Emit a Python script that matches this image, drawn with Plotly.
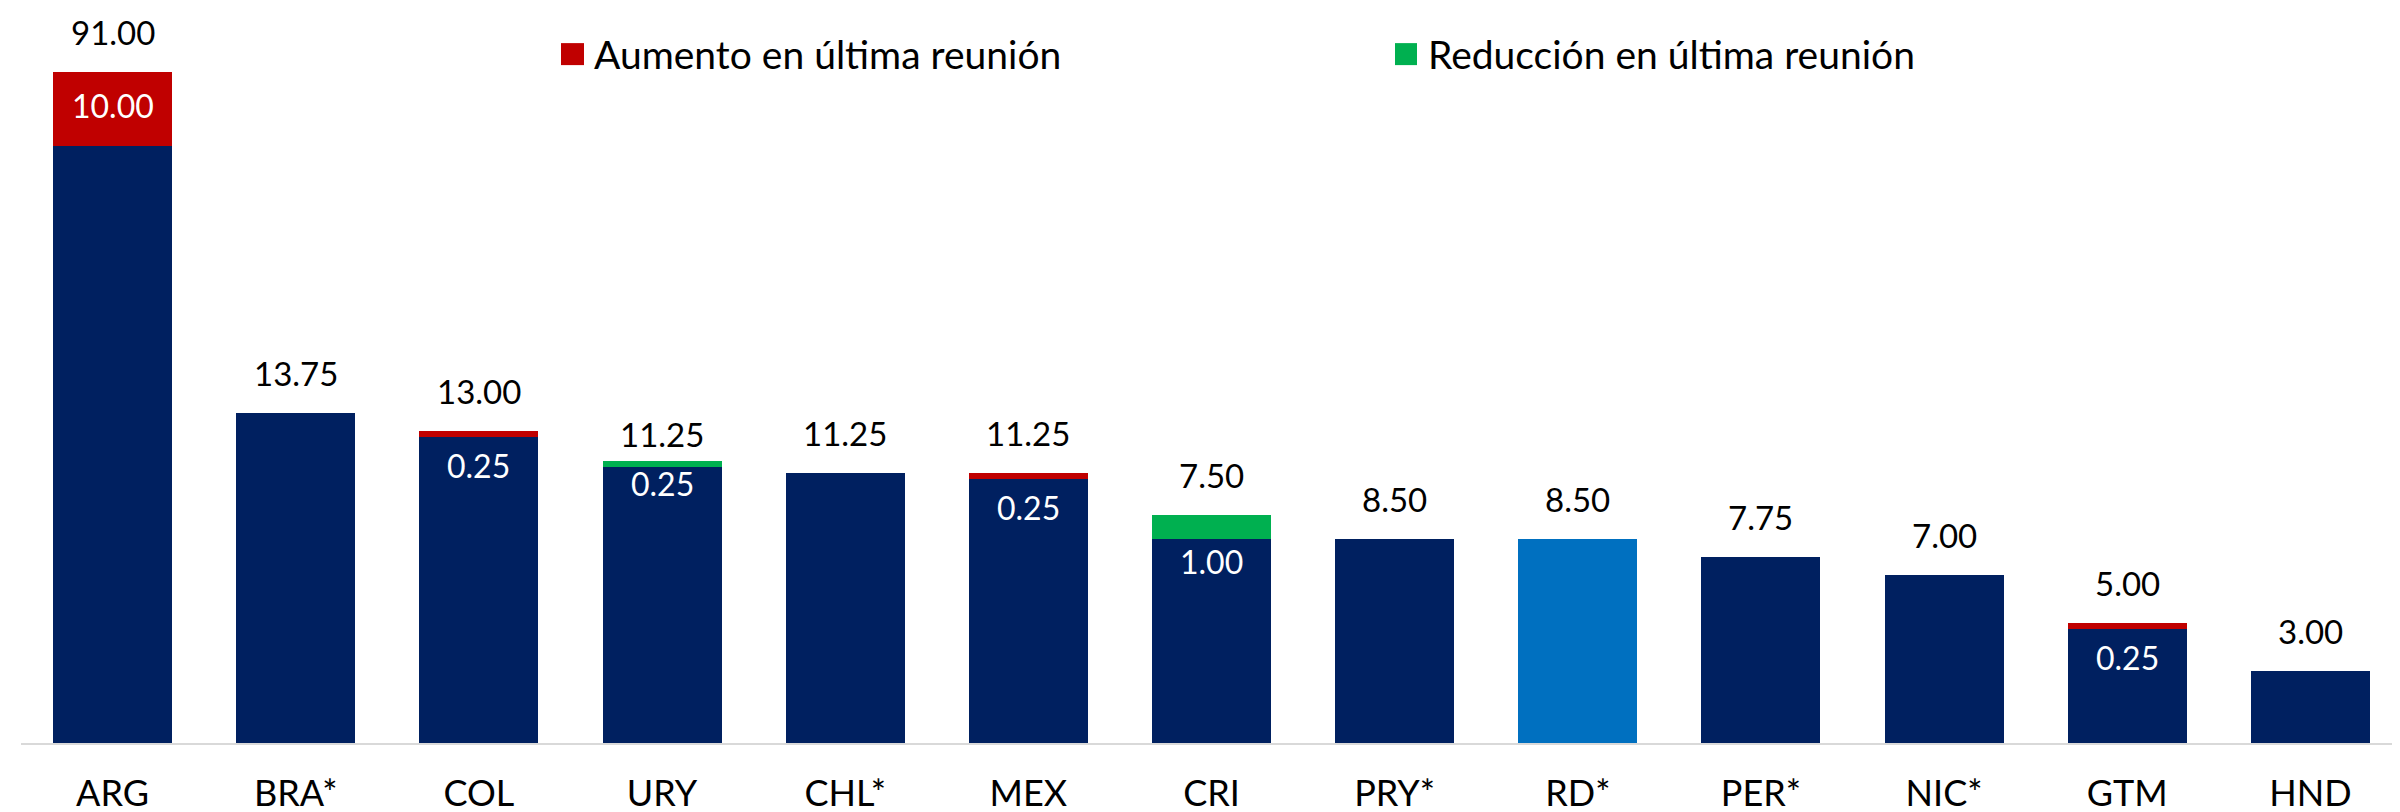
import plotly.graph_objects as go

# ---- data ----
countries = ["ARG", "BRA*", "COL", "URY", "CHL*", "MEX", "CRI", "PRY*", "RD*", "PER*", "NIC*", "GTM", "HND"]
rate_labels = [91.00, 13.75, 13.00, 11.25, 11.25, 11.25, 7.50, 8.50, 8.50, 7.75, 7.00, 5.00, 3.00]
change_labels = [10.00, None, 0.25, 0.25, None, 0.25, 1.00, None, None, None, None, 0.25, None]
# heights as drawn (ARG is drawn on a compressed scale in the reference)
base_height = [24.92, 13.75, 12.75, 11.50, 11.25, 11.00, 8.50, 8.50, 8.50, 7.75, 7.00, 4.75, 3.00]
increase_height = [3.08, 0, 0.25, 0, 0, 0.25, 0, 0, 0, 0, 0, 0.25, 0]
reduction_height = [0, 0, 0, 0.25, 0, 0, 1.00, 0, 0, 0, 0, 0, 0]
legend_names = ["Aumento en última reunión", "Reducción en última reunión"]

NAVY = "#002060"
LIGHTBLUE = "#0070C0"
RED = "#C00000"
GREEN = "#00B050"
FONT = "Lato"

W, H = 2400, 812
ML, MR, MT, MB = 13, 6, 40, 61
PH = H - MT - MB
YMAX = PH / 24.52

base_colors = [LIGHTBLUE if c == "RD*" else NAVY for c in countries]

fig = go.Figure()
fig.add_trace(go.Bar(x=countries, y=base_height, marker=dict(color=base_colors, line=dict(width=0)),
                     showlegend=False, hoverinfo="skip"))
fig.add_trace(go.Bar(x=countries, y=increase_height, marker=dict(color=RED, line=dict(width=0)),
                     name=legend_names[0], showlegend=False, hoverinfo="skip"))
fig.add_trace(go.Bar(x=countries, y=reduction_height, marker=dict(color=GREEN, line=dict(width=0)),
                     name=legend_names[1], showlegend=False, hoverinfo="skip"))

annotations = []
# top value labels
top_shift = {"URY": 27}
for i, c in enumerate(countries):
    top = base_height[i] + increase_height[i] + reduction_height[i]
    annotations.append(dict(x=c, y=top, xref="x", yref="y", text=f"{rate_labels[i]:.2f}",
                            showarrow=False, yshift=top_shift.get(c, 40), yanchor="middle",
                            font=dict(family=FONT, size=33, color="black")))
# change labels (white, inside)
inner_shift = {"URY": -16, "CRI": -22}
for i, c in enumerate(countries):
    v = change_labels[i]
    if v is None:
        continue
    if c == "ARG":
        y = base_height[i] + increase_height[i] / 2
        ys = 3
    else:
        y = base_height[i]
        ys = inner_shift.get(c, -28)
    annotations.append(dict(x=c, y=y, xref="x", yref="y", text=f"{v:.2f}", showarrow=False,
                            yshift=ys, yanchor="middle",
                            font=dict(family=FONT, size=32, color="white")))

# manual legend (large square swatches)
PW = W - ML - MR
def px_x(px):
    return (px - ML) / PW
def px_y(py):
    return (H - MB - py) / PH

shapes = []
legend_items = [(553, 576, 584, RED, legend_names[0]), (1387, 1409, 1418, GREEN, legend_names[1])]
for x0, x1, tx, col, name in legend_items:
    shapes.append(dict(type="rect", xref="paper", yref="paper", x0=px_x(x0), x1=px_x(x1),
                       y0=px_y(57.5), y1=px_y(35), fillcolor=col, line=dict(width=0)))
    annotations.append(dict(x=px_x(tx), y=px_y(46), xref="paper", yref="paper", text=name,
                            showarrow=False, xanchor="left", yanchor="middle",
                            font=dict(family=FONT, size=39, color="black")))

fig.update_layout(
    width=W, height=H,
    margin=dict(l=ML, r=MR, t=MT, b=MB),
    barmode="stack", bargap=0.35,
    plot_bgcolor="white", paper_bgcolor="white",
    showlegend=False,
    annotations=annotations, shapes=shapes,
    font=dict(family=FONT, color="black"),
)
fig.update_xaxes(showline=True, linecolor="#D9D9D9", linewidth=2, showgrid=False, ticks="",
                 tickfont=dict(family=FONT, size=36, color="black"), ticklabelstandoff=18,
                 fixedrange=True)
fig.update_yaxes(range=[0, YMAX], visible=False, showgrid=False, fixedrange=True)

fig.write_html("out.html", config={"displayModeBar": False})
